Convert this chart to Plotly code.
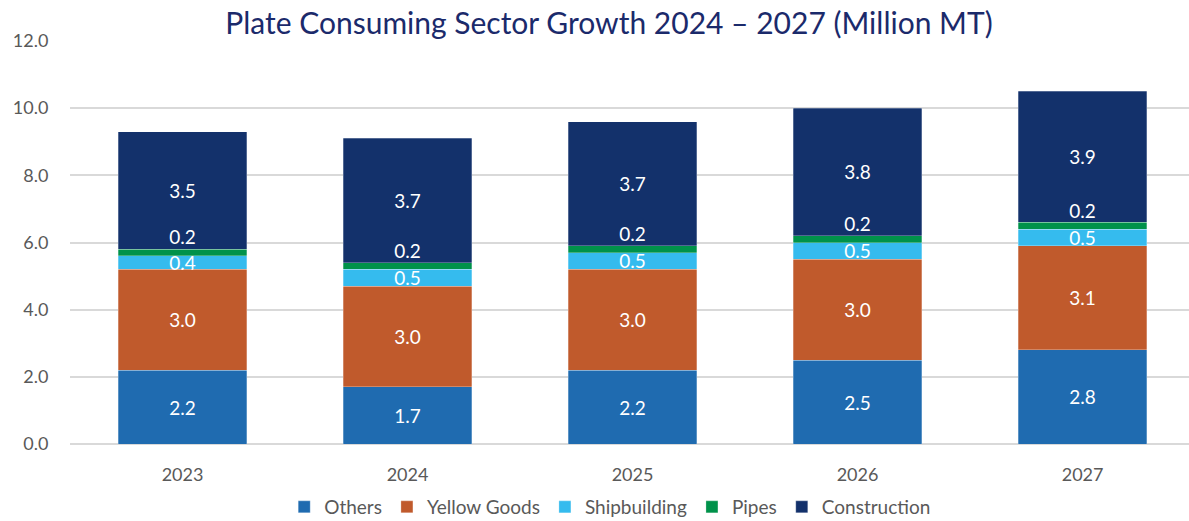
import plotly.graph_objects as go

years = ["2023", "2024", "2025", "2026", "2027"]
others = [2.2, 1.7, 2.2, 2.5, 2.8]
yellow_goods = [3.0, 3.0, 3.0, 3.0, 3.1]
shipbuilding = [0.4, 0.5, 0.5, 0.5, 0.5]
pipes = [0.2, 0.2, 0.2, 0.2, 0.2]
construction = [3.5, 3.7, 3.7, 3.8, 3.9]

series = [
    ("Others", others, "#1f6bb0"),
    ("Yellow Goods", yellow_goods, "#c05a2c"),
    ("Shipbuilding", shipbuilding, "#35bbee"),
    ("Pipes", pipes, "#00924a"),
    ("Construction", construction, "#13316b"),
]

FONT = "Lato, 'Open Sans', sans-serif"
LABEL_SIZE = 19

fig = go.Figure()
for name, vals, color in series:
    show_inside = name != "Pipes"
    fig.add_trace(go.Bar(
        name=name,
        x=years,
        y=vals,
        marker=dict(color=color, line=dict(width=0.6, color="rgba(255,255,255,0.45)")),
        text=[f"{v:.1f}" for v in vals] if show_inside else None,
        texttemplate="%{text}" if show_inside else None,
        textposition="inside" if show_inside else "none",
        insidetextanchor="middle",
        constraintext="none",
        textfont=dict(family=FONT, size=LABEL_SIZE, color="white"),
        hoverinfo="skip",
    ))

# Pipes labels sit just above the thin pipes segment
pipes_top = [o + yg + s + p for o, yg, s, p in zip(others, yellow_goods, shipbuilding, pipes)]
fig.add_trace(go.Scatter(
    x=years,
    y=pipes_top,
    mode="text",
    text=[f"{v:.1f}" for v in pipes],
    textposition="top center",
    textfont=dict(family=FONT, size=LABEL_SIZE, color="white"),
    showlegend=False,
    hoverinfo="skip",
))

fig.update_layout(
    barmode="stack",
    bargap=0.43,
    width=1189,
    height=521,
    margin=dict(l=70, r=0, t=41, b=77, autoexpand=False),
    paper_bgcolor="white",
    plot_bgcolor="white",
    font=dict(family=FONT, color="#595959"),
    title=dict(
        text="Plate Consuming Sector Growth 2024 – 2027 (Million MT)",
        x=609 / 1189,
        xanchor="center",
        y=1 - 23 / 521,
        yanchor="middle",
        font=dict(family=FONT, size=30, color="#1b2a6b"),
    ),
    xaxis=dict(
        range=[-0.5, 4.473],
        showgrid=False,
        showline=False,
        ticks="outside",
        ticklen=14,
        tickcolor="rgba(0,0,0,0)",
        tickfont=dict(family=FONT, size=18, color="#595959"),
    ),
    yaxis=dict(
        range=[0, 12],
        tickvals=[0, 2, 4, 6, 8, 10, 12],
        tickformat=".1f",
        showgrid=True,
        gridcolor="#d9d9d9",
        gridwidth=1.5,
        zeroline=True,
        zerolinecolor="#d9d9d9",
        zerolinewidth=1.5,
        ticks="outside",
        ticklen=17,
        tickcolor="rgba(0,0,0,0)",
        tickfont=dict(family=FONT, size=18, color="#595959"),
    ),
    legend=dict(
        orientation="h",
        x=574 / 1189,
        xanchor="center",
        y=-(507 - 444) / (444 - 41),
        yanchor="middle",
        font=dict(family=FONT, size=19, color="#595959"),
        itemwidth=30,
        traceorder="normal",
    ),
)

fig.write_html("out.html")
